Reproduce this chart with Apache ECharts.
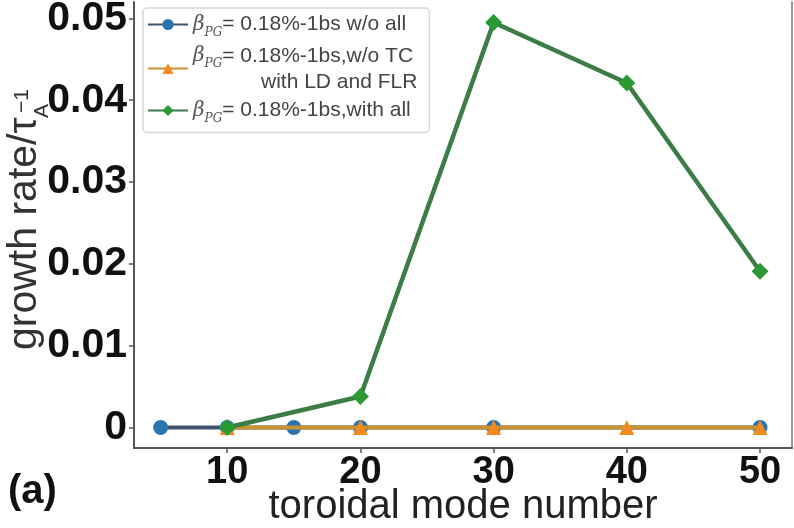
<!DOCTYPE html>
<html>
<head>
<meta charset="utf-8">
<script src="https://cdn.jsdelivr.net/npm/echarts@6/dist/echarts.min.js"></script>
<style>
  html, body { margin: 0; padding: 0; background: #fff; }
  #chart { width: 794px; height: 528px; }
</style>
</head>
<body>
<div id="chart"></div>
<script>
// toroidal mode numbers and growth rates for each case
const xTicks = [10, 20, 30, 40, 50];
const yTicks = [0, 0.01, 0.02, 0.03, 0.04, 0.05];

const nWithoutAll = [5, 10, 15, 20, 30, 50];
const gWithoutAll = [0, 0, 0, 0, 0, 0];

const nWithoutTC = [10, 20, 30, 40, 50];
const gWithoutTC = [0, 0, 0, 0, 0];

const nWithAll = [10, 20, 30, 40, 50];
const gWithAll = [0, 0.0038, 0.0495, 0.0421, 0.0191];

const seriesNames = [
  'βPG= 0.18%-1bs w/o all',
  'βPG= 0.18%-1bs,w/o TC with LD and FLR',
  'βPG= 0.18%-1bs,with all'
];

const pairs = (xs, ys) => xs.map((x, i) => [x, ys[i]]);

const FONT = '"Liberation Sans", Arial, sans-serif';

const chart = echarts.init(document.getElementById('chart'), null, { renderer: 'canvas' });

const legendText = {
  [seriesNames[0]]: '{b|β}{s|PG}{t|= 0.18%-1bs w/o all}',
  [seriesNames[1]]: '{b|β}{s|PG}{t|= 0.18%-1bs,w/o TC}\n{ind|with LD and FLR}',
  [seriesNames[2]]: '{b|β}{s|PG}{t|= 0.18%-1bs,with all}'
};

chart.setOption({
  backgroundColor: '#ffffff',
  animation: false,
  grid: { left: 134, right: 2, top: 2, bottom: 80, containLabel: false, outerBoundsMode: 'none' },
  legend: {
    orient: 'vertical',
    left: 143,
    top: 8,
    padding: [6, 12, 8, 4],
    itemWidth: 40,
    itemHeight: 14,
    itemGap: 7,
    borderColor: '#d8d8d8',
    borderWidth: 1.5,
    borderRadius: 4,
    backgroundColor: 'rgba(255,255,255,0.85)',
    data: seriesNames,
    formatter: name => legendText[name],
    textStyle: {
      fontFamily: FONT,
      color: '#444',
      rich: {
        b: { fontFamily: '"DejaVu Serif", serif', fontStyle: 'italic', fontSize: 20, color: '#555', lineHeight: 28 },
        s: { fontFamily: '"DejaVu Serif", serif', fontStyle: 'italic', fontSize: 12, color: '#555', lineHeight: 28, verticalAlign: 'bottom', padding: [8, 0, 0, 0] },
        t: { fontFamily: FONT, fontSize: 21, color: '#444', lineHeight: 28 },
        ind: { fontFamily: FONT, fontSize: 21, color: '#444', lineHeight: 25, padding: [0, 0, 0, 68] }
      }
    }
  },
  xAxis: {
    type: 'value',
    min: 3,
    max: 52.4,
    name: 'toroidal mode number',
    nameLocation: 'middle',
    nameGap: 39,
    nameMoveOverlap: false,
    nameTextStyle: { fontFamily: FONT, fontSize: 40, color: '#222' },
    splitLine: { show: false },
    axisLine: { show: true, onZero: false, lineStyle: { color: '#555', width: 2 } },
    axisTick: { show: true, length: 5, customValues: xTicks, lineStyle: { color: '#555', width: 1.5 } },
    axisLabel: {
      customValues: xTicks,
      margin: 6,
      fontFamily: FONT,
      fontWeight: 'bold',
      fontSize: 38,
      color: '#111'
    }
  },
  yAxis: [{
    type: 'value',
    min: -0.0025,
    max: 0.052,
    splitLine: { show: false },
    axisLine: { show: true, onZero: false, lineStyle: { color: '#555', width: 2 } },
    axisTick: { show: true, length: 5, customValues: yTicks, lineStyle: { color: '#555', width: 1.5 } },
    axisLabel: {
      customValues: yTicks,
      margin: 7,
      fontFamily: FONT,
      fontWeight: 'bold',
      fontSize: 41,
      color: '#111',
      formatter: v => (v === 0 ? '0' : v.toFixed(2))
    }
  }, {
    type: 'value',
    position: 'right',
    min: -0.0025,
    max: 0.052,
    splitLine: { show: false },
    axisLine: { show: true, onZero: false, lineStyle: { color: '#999', width: 2 } },
    axisTick: { show: false },
    axisLabel: { show: false }
  }],
  series: [
    {
      name: seriesNames[0],
      type: 'line',
      data: pairs(nWithoutAll, gWithoutAll),
      symbol: 'circle',
      symbolSize: 15,
      itemStyle: { color: '#2a74b0' },
      lineStyle: { color: '#3c536b', width: 4 },
      z: 2
    },
    {
      name: seriesNames[1],
      type: 'line',
      data: pairs(nWithoutTC, gWithoutTC),
      symbol: 'triangle',
      symbolSize: 15,
      itemStyle: { color: '#f28a1e' },
      lineStyle: { color: '#c99232', width: 4 },
      z: 3
    },
    {
      name: seriesNames[2],
      type: 'line',
      data: pairs(nWithAll, gWithAll),
      symbol: 'diamond',
      symbolSize: 17,
      itemStyle: { color: '#2c9a34' },
      lineStyle: { color: '#3c7c47', width: 4.5 },
      z: 4
    }
  ],
  graphic: [
    {
      type: 'text',
      x: 45,
      y: 350,
      rotation: Math.PI / 2,
      style: {
        text: 'growth rate/τ',
        font: '41px "Liberation Sans", Arial, sans-serif',
        fill: '#333',
        align: 'left',
        verticalAlign: 'bottom'
      }
    },
    {
      type: 'text',
      x: 53,
      y: 118,
      rotation: Math.PI / 2,
      style: {
        text: 'A',
        font: '21px "Liberation Sans", Arial, sans-serif',
        fill: '#333',
        align: 'left',
        verticalAlign: 'bottom'
      }
    },
    {
      type: 'text',
      x: 33,
      y: 113,
      rotation: Math.PI / 2,
      style: {
        text: '−1',
        font: '21px "Liberation Sans", Arial, sans-serif',
        fill: '#333',
        align: 'left',
        verticalAlign: 'bottom'
      }
    },
    {
      type: 'text',
      left: 8,
      top: 472,
      style: {
        text: '(a)',
        font: 'bold 40px "Liberation Sans", Arial, sans-serif',
        fill: '#111'
      }
    }
  ]
});
</script>
</body>
</html>
